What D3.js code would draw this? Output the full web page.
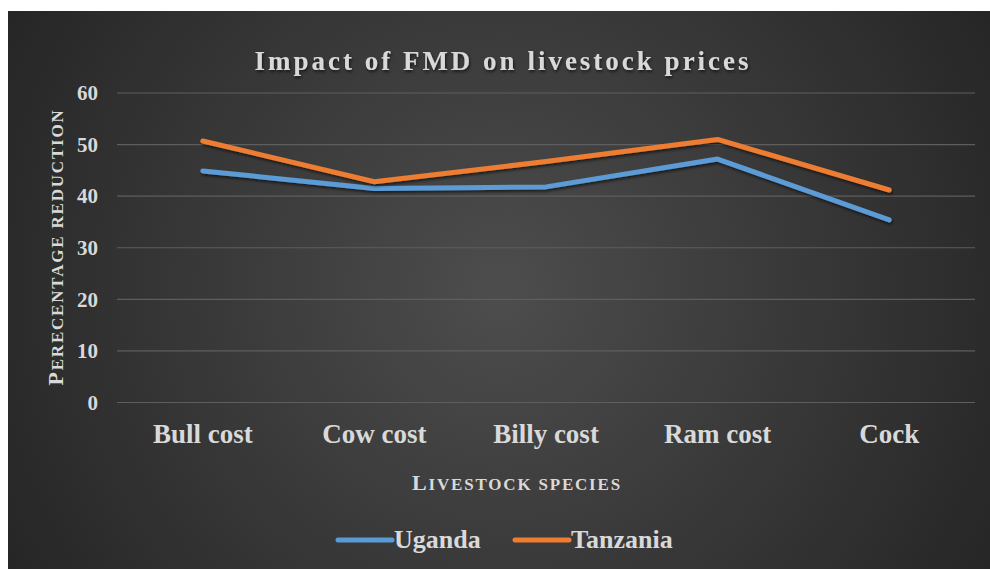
<!DOCTYPE html>
<html>
<head>
<meta charset="utf-8">
<script src="https://cdn.jsdelivr.net/npm/d3@7"></script>
<style>
  body { margin: 0; background: #fff; }
  svg { display: block; }
  text { font-family: "Liberation Serif", "Times New Roman", serif; fill: #d9d9d9; }
</style>
</head>
<body>
<svg width="990" height="569"></svg>
<script>
// data
const categories = ['Bull cost', 'Cow cost', 'Billy cost', 'Ram cost', 'Cock'];
const uganda = [44.9, 41.5, 41.8, 47.2, 35.4];
const tanzania = [50.7, 42.8, 46.7, 51.0, 41.2];
const yTicks = [0, 10, 20, 30, 40, 50, 60];
const seriesNames = ['Uganda', 'Tanzania'];
const seriesColors = ['#5b9bd5', '#ed7d31'];

const svg = d3.select('svg');
const defs = svg.append('defs');

let bg = defs.append('radialGradient')
  .attr('id', 'bg')
  .attr('gradientUnits', 'userSpaceOnUse')
  .attr('cx', 500).attr('cy', 290).attr('r', 560);
bg.append('stop').attr('offset', '0%').attr('stop-color', '#4d4d4d');
bg.append('stop').attr('offset', '100%').attr('stop-color', '#262626');

let shadow = defs.append('filter').attr('id', 'shadow')
  .attr('x', '-10%').attr('y', '-10%').attr('width', '120%').attr('height', '140%');
shadow.append('feDropShadow')
  .attr('dx', 1).attr('dy', 2).attr('stdDeviation', 1.5)
  .attr('flood-color', '#000').attr('flood-opacity', 0.6);

svg.append('rect')
  .attr('x', 8).attr('y', 11).attr('width', 982).attr('height', 558)
  .attr('fill', 'url(#bg)');

const plot = {left: 117, right: 975, top: 93, bottom: 402.5};

let x = d3.scaleBand().domain(categories).range([plot.left, plot.right]);
let y = d3.scaleLinear().domain([0, 60]).range([plot.bottom, plot.top]);

// gridlines
svg.append('g')
  .selectAll('line')
  .data(yTicks)
  .enter()
  .append('line')
  .attr('x1', plot.left).attr('x2', plot.right)
  .attr('y1', function(d){ return y(d); })
  .attr('y2', function(d){ return y(d); })
  .attr('stroke', '#5e5e5e')
  .attr('stroke-width', 1.2);

// y axis
let yAxis = svg.append('g')
  .attr('transform', 'translate(98,0)')
  .call(d3.axisLeft(y).tickValues(yTicks).tickSize(0).tickPadding(0));
yAxis.select('.domain').remove();
yAxis.selectAll('text')
  .attr('font-family', '"Liberation Serif", serif')
  .attr('font-size', 21)
  .attr('font-weight', 'bold')
  .attr('fill', '#d9d9d9');

// x axis
let xAxis = svg.append('g')
  .attr('transform', 'translate(0,' + plot.bottom + ')')
  .call(d3.axisBottom(x).tickSize(0).tickPadding(21));
xAxis.select('.domain').remove();
xAxis.selectAll('text')
  .attr('font-family', '"Liberation Serif", serif')
  .attr('font-size', 27)
  .attr('font-weight', 'bold')
  .attr('fill', '#d9d9d9');

// lines
let line = d3.line()
  .x(function(d, i){ return x(categories[i]) + x.bandwidth() / 2; })
  .y(function(d){ return y(d); });

[uganda, tanzania].forEach(function(series, i) {
  svg.append('path')
    .datum(series)
    .attr('d', line)
    .attr('fill', 'none')
    .attr('stroke', seriesColors[i])
    .attr('stroke-width', 5)
    .attr('stroke-linecap', 'round')
    .attr('stroke-linejoin', 'round')
    .attr('filter', 'url(#shadow)');
});

// title
svg.append('text')
  .attr('x', 503).attr('y', 70)
  .attr('text-anchor', 'middle')
  .attr('font-size', 27)
  .attr('font-weight', 'bold')
  .attr('letter-spacing', 3)
  .attr('fill', '#f2f2f2')
  .attr('filter', 'url(#shadow)')
  .text('Impact of FMD on livestock prices');

// small caps like the office chart: first letter bigger, rest upper case
function smallCaps(sel, txt) {
  sel.append('tspan').attr('font-size', 22).text(txt[0].toUpperCase());
  sel.append('tspan').attr('font-size', 17).text(txt.slice(1).toUpperCase());
}

let yTitle = svg.append('text')
  .attr('transform', 'translate(63,247) rotate(-90)')
  .attr('text-anchor', 'middle')
  .attr('font-weight', 'bold')
  .attr('letter-spacing', 1.8)
  .attr('fill', '#d9d9d9');
smallCaps(yTitle, 'Perecentage reduction');

let xTitle = svg.append('text')
  .attr('x', 517).attr('y', 490)
  .attr('text-anchor', 'middle')
  .attr('font-weight', 'bold')
  .attr('letter-spacing', 1.8)
  .attr('fill', '#d9d9d9');
smallCaps(xTitle, 'Livestock species');

// legend
let legendX = [338, 515];
let legend = svg.append('g')
  .selectAll('g')
  .data(seriesNames)
  .enter()
  .append('g')
  .attr('transform', function(d, i){ return 'translate(' + legendX[i] + ',540)'; });

legend.append('line')
  .attr('x1', 0).attr('x2', 54)
  .attr('stroke', function(d, i){ return seriesColors[i]; })
  .attr('stroke-width', 5)
  .attr('stroke-linecap', 'round');

legend.append('text')
  .attr('x', 56).attr('y', 8)
  .attr('font-size', 26)
  .attr('font-weight', 'bold')
  .attr('fill', '#d9d9d9')
  .text(function(d){ return d; });
</script>
</body>
</html>
